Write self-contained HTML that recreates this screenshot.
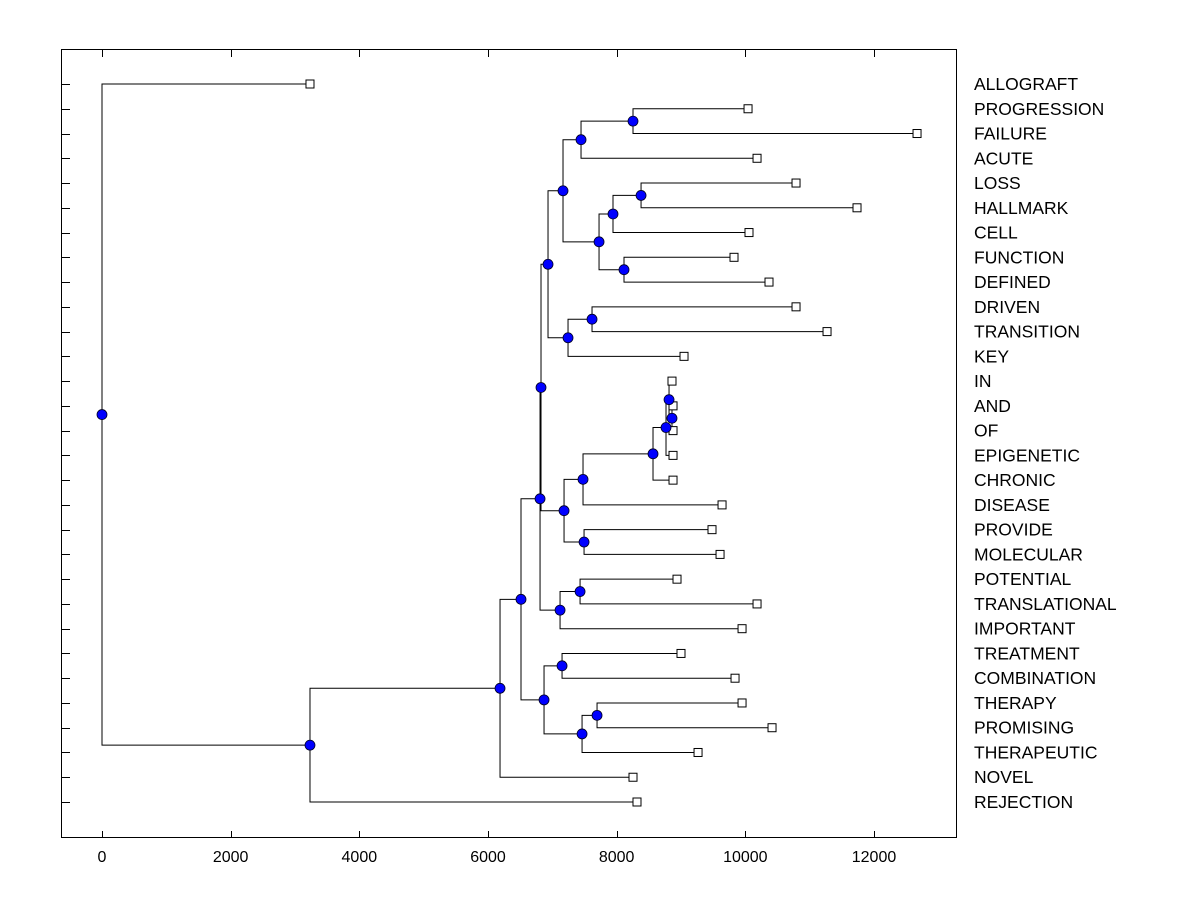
<!DOCTYPE html>
<html><head><meta charset="utf-8"><style>
html,body{margin:0;padding:0;background:#fff;}
svg text{font-family:"Liberation Sans",Arial,sans-serif;}
</style></head><body>
<svg id="chart" width="1200" height="900" xmlns="http://www.w3.org/2000/svg">
<rect x="61.5" y="49.5" width="895" height="788" fill="none" stroke="#000" stroke-width="1"/>
<g id="g-axis"></g><g id="g-links"></g><g id="g-nodes"></g><g id="g-labels"></g>
</svg>
<script>
const leafNames=["ALLOGRAFT","PROGRESSION","FAILURE","ACUTE","LOSS","HALLMARK","CELL","FUNCTION","DEFINED","DRIVEN","TRANSITION","KEY","IN","AND","OF","EPIGENETIC","CHRONIC","DISEASE","PROVIDE","MOLECULAR","POTENTIAL","TRANSLATIONAL","IMPORTANT","TREATMENT","COMBINATION","THERAPY","PROMISING","THERAPEUTIC","NOVEL","REJECTION"];
const leafValues=[3233,10042,12669,10182,10788,11736,10057,9824,10368,10788,11270,9047,8860,8876,8876,8876,8876,9638,9482,9607,8938,10182,9949,9000,9840,9949,10415,9265,8254,8316];
const mergeLeft=[1,30,4,32,7,33,31,9,37,36,13,12,41,42,43,18,44,39,20,48,47,23,25,52,51,50,55,56,0];
const mergeRight=[2,3,5,6,8,34,35,10,11,38,14,40,15,16,17,19,45,46,21,22,49,24,26,27,53,54,28,29,57];
const mergeValues=[8254,7446,8379,7943,8114,7726,7166,7617,7244,6933,8860,8814,8767,8565,7477,7493,7182,6824,7431,7120,6809,7151,7695,7462,6871,6513,6187,3233,0];
const xTicks=[0,2000,4000,6000,8000,10000,12000];

const NS="http://www.w3.org/2000/svg";
const xs=v=>102+v*(874-102)/12000;
const ys=i=>84+i*(802-84)/29;
function mk(tag,attrs,parent){const e=document.createElementNS(NS,tag);for(const k in attrs)e.setAttribute(k,attrs[k]);document.getElementById(parent).appendChild(e);return e;}

xTicks.forEach(t=>{
  const x=Math.round(xs(t))+0.5;
  const tk=mk('line',{x1:x,x2:x,y1:831,y2:838,stroke:'#000'},'g-axis');
  
  
  const tt=mk('line',{x1:x,x2:x,y1:49,y2:57,stroke:'#000'},'g-axis');
  
  
  const lb=mk('text',{x:xs(t),y:862,'text-anchor':'middle','font-size':'16'},'g-axis');
  lb.textContent=String(t);
  
  
});
leafNames.forEach((n,i)=>{
  const y=Math.round(ys(i))+0.5;
  const tk=mk('line',{x1:61,x2:70,y1:y,y2:y,stroke:'#000'},'g-axis');
  
  
  const lb=mk('text',{x:974,y:ys(i)+6,'font-size':'17.5'},'g-labels');
  lb.textContent=n;
  
  
});

const pos=[];
leafValues.forEach((v,i)=>pos.push({x:xs(v),y:ys(i)}));
mergeValues.forEach((v,k)=>{
  const a=pos[mergeLeft[k]],b=pos[mergeRight[k]];
  pos.push({x:xs(v),y:(a.y+b.y)/2});
});
mergeValues.forEach((v,k)=>{
  const p=pos[leafValues.length+k],a=pos[mergeLeft[k]],b=pos[mergeRight[k]];
  const d=`M${a.x},${a.y}H${p.x}V${b.y}H${b.x}`;
  const l=mk('path',{d:d,fill:'none',stroke:'#000','stroke-width':1},'g-links');
  
  
});
leafValues.forEach((v,i)=>{
  const p=pos[i];
  const s=mk('rect',{x:p.x-4,y:p.y-4,width:8,height:8,fill:'#fff',stroke:'#000'},'g-nodes');
  
  
});
mergeValues.forEach((v,k)=>{
  const p=pos[leafValues.length+k];
  const c=mk('circle',{cx:p.x,cy:p.y,r:5,fill:'#0000ff',stroke:'#000022','stroke-width':0.8},'g-nodes');
  
  
});
</script>
</body></html>
